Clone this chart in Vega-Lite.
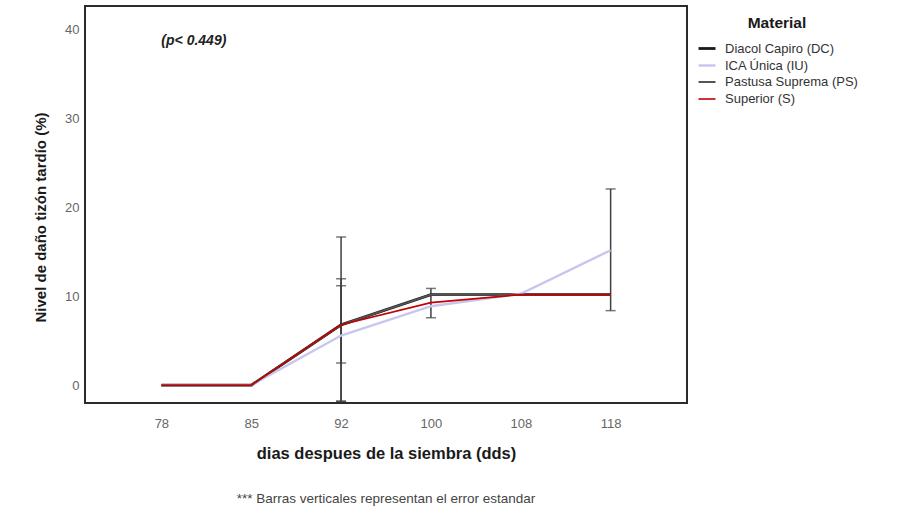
{
  "$schema": "https://vega.github.io/schema/vega-lite/v6.json",
  "width": 602,
  "height": 397,
  "autosize": {"type": "none"},
  "padding": {"left": 85, "top": 6, "right": 211, "bottom": 126},
  "background": "white",
  "title": {
    "text": "*** Barras verticales representan el error estandar",
    "orient": "bottom",
    "anchor": "middle",
    "font": "Liberation Sans",
    "fontSize": 13.5,
    "fontWeight": "normal",
    "color": "#444444",
    "offset": 30
  },
  "config": {
    "view": {"stroke": "#2b2b2b", "strokeWidth": 2},
    "font": "Liberation Sans"
  },
  "datasets": {
    "medias": [
      {"dds": "78", "material": "Diacol Capiro (DC)", "nivel": 0},
      {"dds": "85", "material": "Diacol Capiro (DC)", "nivel": 0},
      {"dds": "92", "material": "Diacol Capiro (DC)", "nivel": 6.8},
      {"dds": "100", "material": "Diacol Capiro (DC)", "nivel": 10.2},
      {"dds": "108", "material": "Diacol Capiro (DC)", "nivel": 10.2},
      {"dds": "118", "material": "Diacol Capiro (DC)", "nivel": 10.2},
      {"dds": "78", "material": "ICA Única (IU)", "nivel": 0},
      {"dds": "85", "material": "ICA Única (IU)", "nivel": 0},
      {"dds": "92", "material": "ICA Única (IU)", "nivel": 5.6},
      {"dds": "100", "material": "ICA Única (IU)", "nivel": 8.9},
      {"dds": "108", "material": "ICA Única (IU)", "nivel": 10.3},
      {"dds": "118", "material": "ICA Única (IU)", "nivel": 15.2},
      {"dds": "78", "material": "Pastusa Suprema (PS)", "nivel": 0},
      {"dds": "85", "material": "Pastusa Suprema (PS)", "nivel": 0},
      {"dds": "92", "material": "Pastusa Suprema (PS)", "nivel": 6.8},
      {"dds": "100", "material": "Pastusa Suprema (PS)", "nivel": 10.2},
      {"dds": "108", "material": "Pastusa Suprema (PS)", "nivel": 10.2},
      {"dds": "118", "material": "Pastusa Suprema (PS)", "nivel": 10.2},
      {"dds": "78", "material": "Superior (S)", "nivel": 0},
      {"dds": "85", "material": "Superior (S)", "nivel": 0},
      {"dds": "92", "material": "Superior (S)", "nivel": 6.8},
      {"dds": "100", "material": "Superior (S)", "nivel": 9.3},
      {"dds": "108", "material": "Superior (S)", "nivel": 10.2},
      {"dds": "118", "material": "Superior (S)", "nivel": 10.2}
    ],
    "errores": [
      {"dds": "92", "material": "Diacol Capiro (DC)", "bajo": -1.8, "alto": 16.7},
      {"dds": "92", "material": "ICA Única (IU)", "bajo": -1.8, "alto": 12.0},
      {"dds": "92", "material": "Pastusa Suprema (PS)", "bajo": 2.5, "alto": 11.2},
      {"dds": "100", "material": "Superior (S)", "bajo": 7.6, "alto": 10.9},
      {"dds": "118", "material": "ICA Única (IU)", "bajo": 8.4, "alto": 22.1}
    ],
    "nota": [
      {"dds": "78", "nivel": 38.8, "texto": "(p< 0.449)"}
    ]
  },
  "encoding": {
    "x": {
      "field": "dds",
      "type": "ordinal",
      "sort": ["78", "85", "92", "100", "108", "118"],
      "scale": {"type": "point", "padding": 0.85},
      "axis": {
        "title": "dias despues de la siembra (dds)",
        "labelAngle": 0,
        "ticks": false,
        "domain": false,
        "labelPadding": 14,
        "labelFontSize": 13,
        "labelColor": "#666666",
        "titleFontSize": 16.5,
        "titleFontWeight": "bold",
        "titleColor": "#1a1a1a",
        "titlePadding": 15
      }
    }
  },
  "layer": [
    {
      "data": {"name": "errores"},
      "mark": {"type": "rule", "color": "#404040", "strokeWidth": 1.5},
      "encoding": {
        "y": {"field": "bajo", "type": "quantitative"},
        "y2": {"field": "alto"}
      }
    },
    {
      "data": {"name": "errores"},
      "mark": {"type": "tick", "color": "#404040", "size": 10, "thickness": 1.5},
      "encoding": {"y": {"field": "bajo", "type": "quantitative"}}
    },
    {
      "data": {"name": "errores"},
      "mark": {"type": "tick", "color": "#404040", "size": 10, "thickness": 1.5},
      "encoding": {"y": {"field": "alto", "type": "quantitative"}}
    },
    {
      "data": {"name": "medias"},
      "mark": {"type": "line", "strokeJoin": "miter"},
      "encoding": {
        "y": {
          "field": "nivel",
          "type": "quantitative",
          "scale": {"domain": [-2, 42.7], "nice": false, "zero": false},
          "axis": {
            "title": "Nivel de daño tizón tardío (%)",
            "values": [0, 10, 20, 30, 40],
            "grid": false,
            "ticks": false,
            "domain": false,
            "labelPadding": 6,
            "labelFontSize": 13,
            "labelColor": "#666666",
            "titleFontSize": 15,
            "titleFontWeight": "bold",
            "titleColor": "#1a1a1a",
            "titlePadding": 16,
            "titleY": 211
          }
        },
        "color": {
          "field": "material",
          "type": "nominal",
          "scale": {
            "domain": ["Diacol Capiro (DC)", "ICA Única (IU)", "Pastusa Suprema (PS)", "Superior (S)"],
            "range": ["#1a1a1a", "#c6c6ee", "#555555", "#c40000"]
          },
          "legend": {
            "title": "Material",
            "orient": "none",
            "legendX": 612,
            "legendY": 10,
            "titleAnchor": "middle",
            "titleFontSize": 15.5,
            "titleFontWeight": "bold",
            "titleColor": "#1a1a1a",
            "titlePadding": 7,
            "labelFontSize": 13,
            "labelColor": "#333333",
            "labelOffset": 8,
            "rowPadding": 0,
            "symbolType": "stroke",
            "symbolSize": 289
          }
        },
        "strokeWidth": {
          "field": "material",
          "type": "nominal",
          "scale": {
            "domain": ["Diacol Capiro (DC)", "ICA Única (IU)", "Pastusa Suprema (PS)", "Superior (S)"],
            "range": [2.8, 1.6, 2.8, 2.8]
          },
          "legend": {
            "title": "Material",
            "orient": "none",
            "legendX": 612,
            "legendY": 10
          }
        }
      }
    },
    {
      "data": {"name": "nota"},
      "mark": {
        "type": "text",
        "align": "left",
        "baseline": "middle",
        "fontSize": 14,
        "fontWeight": "bold",
        "fontStyle": "italic",
        "color": "#222222"
      },
      "encoding": {
        "y": {"field": "nivel", "type": "quantitative"},
        "text": {"field": "texto"}
      }
    }
  ]
}
